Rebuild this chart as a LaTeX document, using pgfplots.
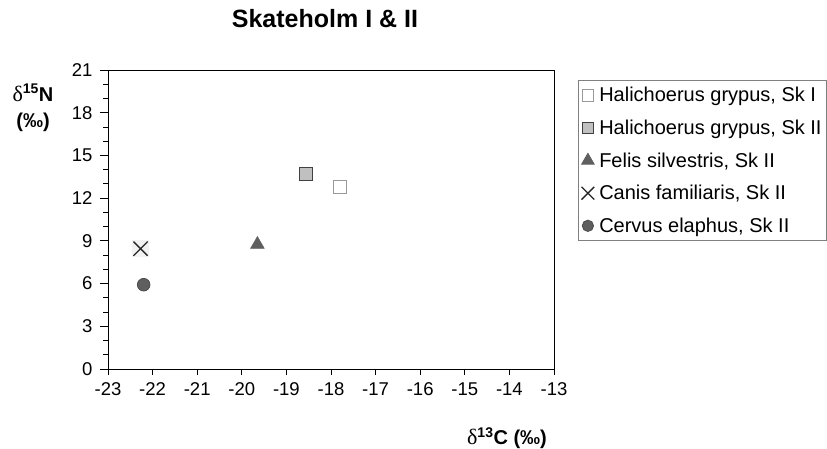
\documentclass[border=0pt]{standalone}
\usepackage{pgfplots}
\pgfplotsset{compat=1.18}
\usepackage{fontspec}
\setmainfont{Liberation Sans}
\newfontfamily\serif{Liberation Serif}
\definecolor{gfill}{HTML}{C0C0C0}
\definecolor{dgray}{HTML}{5F5F5F}
\definecolor{bgx}{HTML}{F2F2F2}
\begin{document}
\begin{tikzpicture}[x=1pt,y=1pt]
\path[use as bounding box] (0,0) rectangle (827,448);
\begin{axis}[
  at={(108pt,79pt)}, anchor=south west,
  scale only axis, width=446pt, height=299pt,
  xmin=-23, xmax=-13, ymin=0, ymax=21,
  xtick={-23,-22,...,-13}, ytick={0,3,...,21},
  minor ytick={0,1,...,21},
  tick align=outside, tick pos=left,
  major tick length=8pt, minor tick length=4.5pt,
  xtick style={/pgfplots/major tick length=6pt},
  axis line style={black, line width=0.9pt},
  every tick/.style={black, line width=0.9pt},
  ticklabel style={font=\fontsize{18.5}{20}\selectfont},
  /pgf/number format/assume math mode=true,
  xticklabel style={yshift=-2pt},
  yticklabel style={xshift=-4pt},
  legend style={at={(1.054,0.9666)}, anchor=north west, draw=gray, line width=0.9pt,
    font=\fontsize{20}{22}\selectfont, row sep=12.6pt, inner xsep=3pt, inner ysep=5pt,
    /tikz/every odd column/.append style={column sep=3pt}},
  legend image post style={every mark/.append style={scale=0.9}},
  legend cell align=left,
  clip=false,
]
\addplot[only marks, mark=square*, mark size=6.5pt, mark options={fill=white, draw=gray!80, line width=1pt}]
  coordinates {(-17.8,12.76)};
\addlegendentry{Halichoerus grypus, Sk I}
\addplot[only marks, mark=square*, mark size=6.5pt, mark options={fill=gfill, draw=black!75, line width=1pt}]
  coordinates {(-18.55,13.7)};
\addlegendentry{Halichoerus grypus, Sk II}
\addplot[only marks, mark=triangle*, mark size=8pt, mark options={fill=dgray, draw=dgray}]
  coordinates {(-19.65,8.75)};
\addlegendentry{Felis silvestris, Sk II}
\addplot[only marks, color=bgx, mark=square*, mark size=8pt, mark options={fill=bgx, draw=bgx}, forget plot]
  coordinates {(-22.27,8.45)};
\addplot[only marks, mark=x, mark size=10pt, mark options={draw=black!85, line width=1.3pt}]
  coordinates {(-22.27,8.45)};
\addlegendentry{Canis familiaris, Sk II}
\addplot[only marks, mark=*, mark size=6.3pt, mark options={fill=dgray, draw=black!70, line width=0.8pt}]
  coordinates {(-22.2,5.92)};
\addlegendentry{Cervus elaphus, Sk II}
\end{axis}
\node[font=\bfseries\fontsize{25}{28}\selectfont, anchor=base] at (325,420) {Skateholm I \& II};
\node[font=\bfseries\fontsize{20}{22}\selectfont] at (33,355)
  {{\mdseries\serif\fontsize{22}{22}\selectfont δ}\textsuperscript{15}N};
\node[font=\bfseries\fontsize{20}{22}\selectfont] at (33,326) {(‰)};
\node[font=\bfseries\fontsize{20}{22}\selectfont] at (507,10)
  {{\mdseries\serif\fontsize{22}{22}\selectfont δ}\textsuperscript{13}C (‰)};
\end{tikzpicture}
\end{document}
